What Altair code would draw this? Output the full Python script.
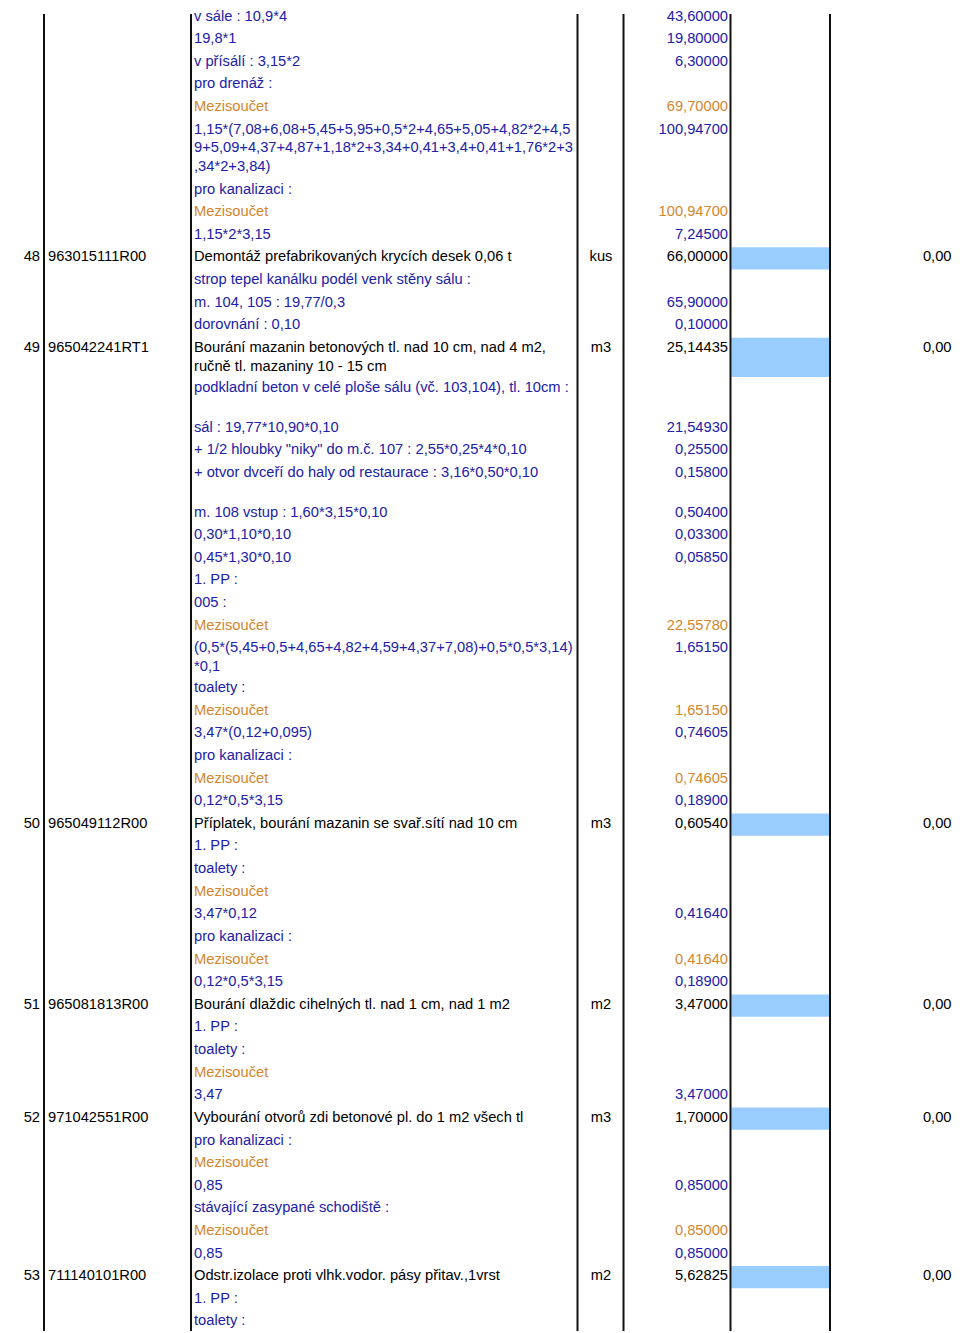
import altair as alt
import pandas as pd

# ---- data (one entry per spreadsheet row) ----
row_kind = [
    "m", "m", "m", "m", "s", "m", "m", "s", "m", "i",
    "m", "m", "m", "i", "m", "m", "m", "m", "m", "m",
    "m", "m", "m", "s", "m", "m", "s", "m", "m", "s",
    "m", "i", "m", "m", "s", "m", "m", "s", "m", "i",
    "m", "m", "s", "m", "i", "m", "s", "m", "m", "s",
    "m", "i", "m", "m",
]
row_text = [
    ["v sále : 10,9*4"],
    ["19,8*1"],
    ["v přísálí : 3,15*2"],
    ["pro drenáž :"],
    ["Mezisoučet"],
    ["1,15*(7,08+6,08+5,45+5,95+0,5*2+4,65+5,05+4,82*2+4,5",
     "9+5,09+4,37+4,87+1,18*2+3,34+0,41+3,4+0,41+1,76*2+3",
     ",34*2+3,84)"],
    ["pro kanalizaci :"],
    ["Mezisoučet"],
    ["1,15*2*3,15"],
    ["Demontáž prefabrikovaných krycích desek 0,06 t"],
    ["strop tepel kanálku podél venk stěny sálu :"],
    ["m. 104, 105 : 19,77/0,3"],
    ["dorovnání : 0,10"],
    ["Bourání mazanin betonových tl. nad 10 cm, nad 4 m2,",
     "ručně tl. mazaniny 10 - 15 cm"],
    ["podkladní beton v celé ploše sálu (vč. 103,104), tl. 10cm :", ""],
    ["sál : 19,77*10,90*0,10"],
    ["+ 1/2 hloubky \"niky\" do m.č. 107 : 2,55*0,25*4*0,10"],
    ["+ otvor dvceří do haly od restaurace : 3,16*0,50*0,10", ""],
    ["m. 108 vstup : 1,60*3,15*0,10"],
    ["0,30*1,10*0,10"],
    ["0,45*1,30*0,10"],
    ["1. PP :"],
    ["005 :"],
    ["Mezisoučet"],
    ["(0,5*(5,45+0,5+4,65+4,82+4,59+4,37+7,08)+0,5*0,5*3,14)", "*0,1"],
    ["toalety :"],
    ["Mezisoučet"],
    ["3,47*(0,12+0,095)"],
    ["pro kanalizaci :"],
    ["Mezisoučet"],
    ["0,12*0,5*3,15"],
    ["Příplatek, bourání mazanin se svař.sítí nad 10 cm"],
    ["1. PP :"],
    ["toalety :"],
    ["Mezisoučet"],
    ["3,47*0,12"],
    ["pro kanalizaci :"],
    ["Mezisoučet"],
    ["0,12*0,5*3,15"],
    ["Bourání dlaždic cihelných tl. nad 1 cm, nad 1 m2"],
    ["1. PP :"],
    ["toalety :"],
    ["Mezisoučet"],
    ["3,47"],
    ["Vybourání otvorů zdi betonové pl. do 1 m2 všech tl"],
    ["pro kanalizaci :"],
    ["Mezisoučet"],
    ["0,85"],
    ["stávající zasypané schodiště :"],
    ["Mezisoučet"],
    ["0,85"],
    ["Odstr.izolace proti vlhk.vodor. pásy přitav.,1vrst"],
    ["1. PP :"],
    ["toalety :"],
]
row_qty = [
    "43,60000", "19,80000", "6,30000", "", "69,70000", "100,94700", "", "100,94700", "7,24500", "66,00000",
    "", "65,90000", "0,10000", "25,14435", "", "21,54930", "0,25500", "0,15800", "0,50400", "0,03300",
    "0,05850", "", "", "22,55780", "1,65150", "", "1,65150", "0,74605", "", "0,74605",
    "0,18900", "0,60540", "", "", "", "0,41640", "", "0,41640", "0,18900", "3,47000",
    "", "", "", "3,47000", "1,70000", "", "", "0,85000", "", "0,85000",
    "0,85000", "5,62825", "", "",
]
item_num = ["48", "49", "50", "51", "52", "53"]
item_code = ["963015111R00", "965042241RT1", "965049112R00", "965081813R00", "971042551R00", "711140101R00"]
item_unit = ["kus", "m3", "m3", "m2", "m3", "m2"]
item_price = ["0,00", "0,00", "0,00", "0,00", "0,00", "0,00"]

# ---- layout ----
FONT = "Liberation Sans"
FS = 14.7
COLORS = {"m": "#2020a8", "s": "#d2862e", "i": "#000000"}
ROW_H = {1: 22.62, 2: 39.8, 3: 60.0}
LINE_GAP = 18.8
FIRST_CENTER = 9.2
BASE_OFF = 5.3
col_lines = [44, 191, 577.5, 623.5, 730.5, 830]
X_NUM_R, X_CODE_L, X_DESC_L, X_UNIT_C, X_QTY_R, X_PRICE_R = 40, 48, 194, 601, 728, 951.5
CELL_X0, CELL_X1 = 731.5, 829

left_rows, right_rows, center_rows, cells = [], [], [], []
center = FIRST_CENTER
item_i = 0
for kind, lines, qty in zip(row_kind, row_text, row_qty):
    col = COLORS[kind]
    base = center + BASE_OFF
    for j, ln in enumerate(lines):
        if ln:
            left_rows.append({"x": X_DESC_L, "y": base + j * LINE_GAP, "t": ln, "c": col})
    if qty:
        right_rows.append({"x": X_QTY_R, "y": base, "t": qty, "c": col})
    h = ROW_H[len(lines)]
    if kind == "i":
        right_rows.append({"x": X_NUM_R, "y": base, "t": item_num[item_i], "c": col})
        left_rows.append({"x": X_CODE_L, "y": base, "t": item_code[item_i], "c": col})
        center_rows.append({"x": X_UNIT_C, "y": base, "t": item_unit[item_i], "c": col})
        right_rows.append({"x": X_PRICE_R, "y": base, "t": item_price[item_i], "c": col})
        cells.append({"x": CELL_X0, "x2": CELL_X1, "y": center - 9.0, "y2": center - 9.0 + h - 0.4})
        item_i += 1
    center += h

# page has an 8px margin: data coordinates are page pixels
xs = alt.Scale(domain=[8, 952], nice=False, zero=False)
ys = alt.Scale(domain=[8, 1325], nice=False, zero=False, reverse=True)

rules = alt.Chart(pd.DataFrame({"x": col_lines, "y": [8] * len(col_lines), "y2": [1325] * len(col_lines)})).mark_rule(
    color="#111111", strokeWidth=2
).encode(
    x=alt.X("x:Q", scale=xs, axis=None),
    y=alt.Y("y:Q", scale=ys, axis=None),
    y2="y2:Q",
)

rects = alt.Chart(pd.DataFrame(cells)).mark_rect(color="#99ccff").encode(
    x=alt.X("x:Q", scale=xs, axis=None),
    x2="x2:Q",
    y=alt.Y("y:Q", scale=ys, axis=None),
    y2="y2:Q",
)


def text_layer(rows, align):
    return alt.Chart(pd.DataFrame(rows)).mark_text(
        align=align, baseline="alphabetic", font=FONT, fontSize=FS
    ).encode(
        x=alt.X("x:Q", scale=xs, axis=None),
        y=alt.Y("y:Q", scale=ys, axis=None),
        text="t:N",
        color=alt.Color("c:N", scale=None),
    )


chart = alt.layer(
    rects,
    rules,
    text_layer(left_rows, "left"),
    text_layer(right_rows, "right"),
    text_layer(center_rows, "center"),
).properties(
    width=944, height=1317, padding=0, background="white"
).configure_view(stroke=None)

chart.save("out.html", embed_options={"renderer": "svg", "actions": False})
